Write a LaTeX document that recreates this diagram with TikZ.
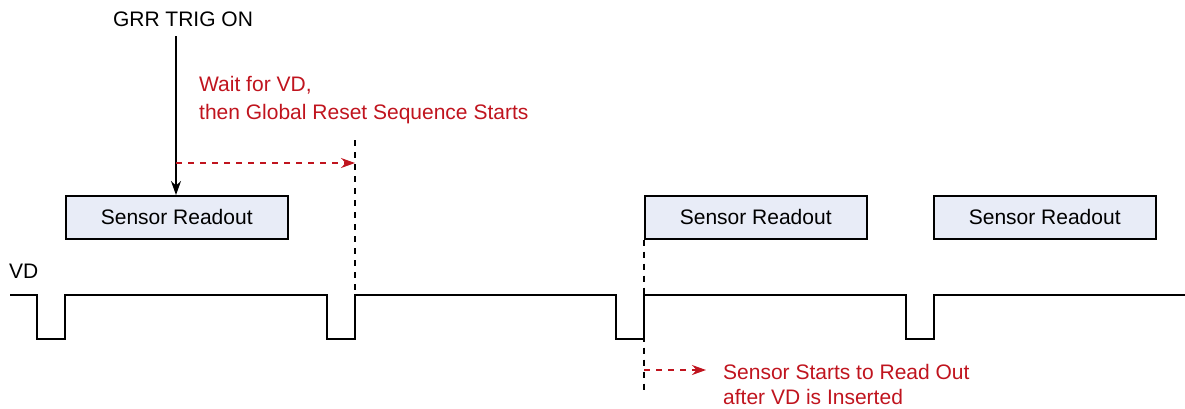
\documentclass[tikz,border=0pt]{standalone}
\usepackage{fontspec}
\setmainfont{Liberation Sans}
\usetikzlibrary{arrows.meta}
\definecolor{redtxt}{HTML}{C0141E}
\definecolor{boxfill}{HTML}{E8ECF7}
\begin{document}
\begin{tikzpicture}[x=1pt,y=-1pt,
  every node/.style={font=\fontsize{21}{28}\selectfont, inner sep=0pt},
  rbox/.style={draw=black, line width=1.5pt, fill=boxfill, minimum width=222pt, minimum height=43pt, anchor=north west},
  wave/.style={line width=1.6pt, line join=miter},
  vdash/.style={line width=1.5pt, dash pattern=on 6pt off 6pt},
  rdash/.style={draw=redtxt, line width=1.5pt, dash pattern=on 6pt off 6pt, -{Stealth[length=14pt,width=10pt]}},
  redlabel/.style={text=redtxt, align=left, anchor=base west}
]
\useasboundingbox (0,0) rectangle (1185,408);
% boxes
\node[rbox] (b1) at (65,195) {Sensor Readout};
\node[rbox] (b2) at (644,195) {Sensor Readout};
\node[rbox] (b3) at (933,195) {Sensor Readout};
% labels
\node[anchor=base] (grr) at (183,26) {GRR TRIG ON};
\node[anchor=base west] (vd) at (9,278) {VD};
\node[redlabel] (wait) at (199,119) {Wait for VD,\\then Global Reset Sequence Starts};
\node[redlabel, font=\fontsize{21}{25.5}\selectfont, text depth=0pt] (sens) at (723,404.5) {Sensor Starts to Read Out\\after VD is Inserted};
% waveform
\draw[wave] (10,295) -- (37,295) -- (37,339) -- (65,339) -- (65,295)
  -- (327,295) -- (327,339) -- (355,339) -- (355,295)
  -- (616,295) -- (616,339) -- (644,339) -- (644,295)
  -- (906,295) -- (906,339) -- (934,339) -- (934,295) -- (1185,295);
% coordinates
\coordinate (a1) at (176,36);
\coordinate (r1s) at (176,163);
\coordinate (d1t) at (355,140);
\coordinate (d1b) at (355,295);
\coordinate (r1e) at (355,163);
\coordinate (d2b) at (644,395);
\coordinate (r2s) at (644,370);
\coordinate (r2e) at (706,370);
% trigger arrow
\draw[line width=1.5pt, -{Stealth[length=14pt,width=10pt]}] (a1) -- (a1 |- b1.north);
% dashed verticals
\draw[vdash] (d1t) -- (d1b);
\draw[vdash] (b2.south west) -- (d2b);
% red arrows
\draw[rdash] (r1s) -- (r1e);
\draw[rdash] (r2s) -- (r2e);
\end{tikzpicture}
\end{document}
